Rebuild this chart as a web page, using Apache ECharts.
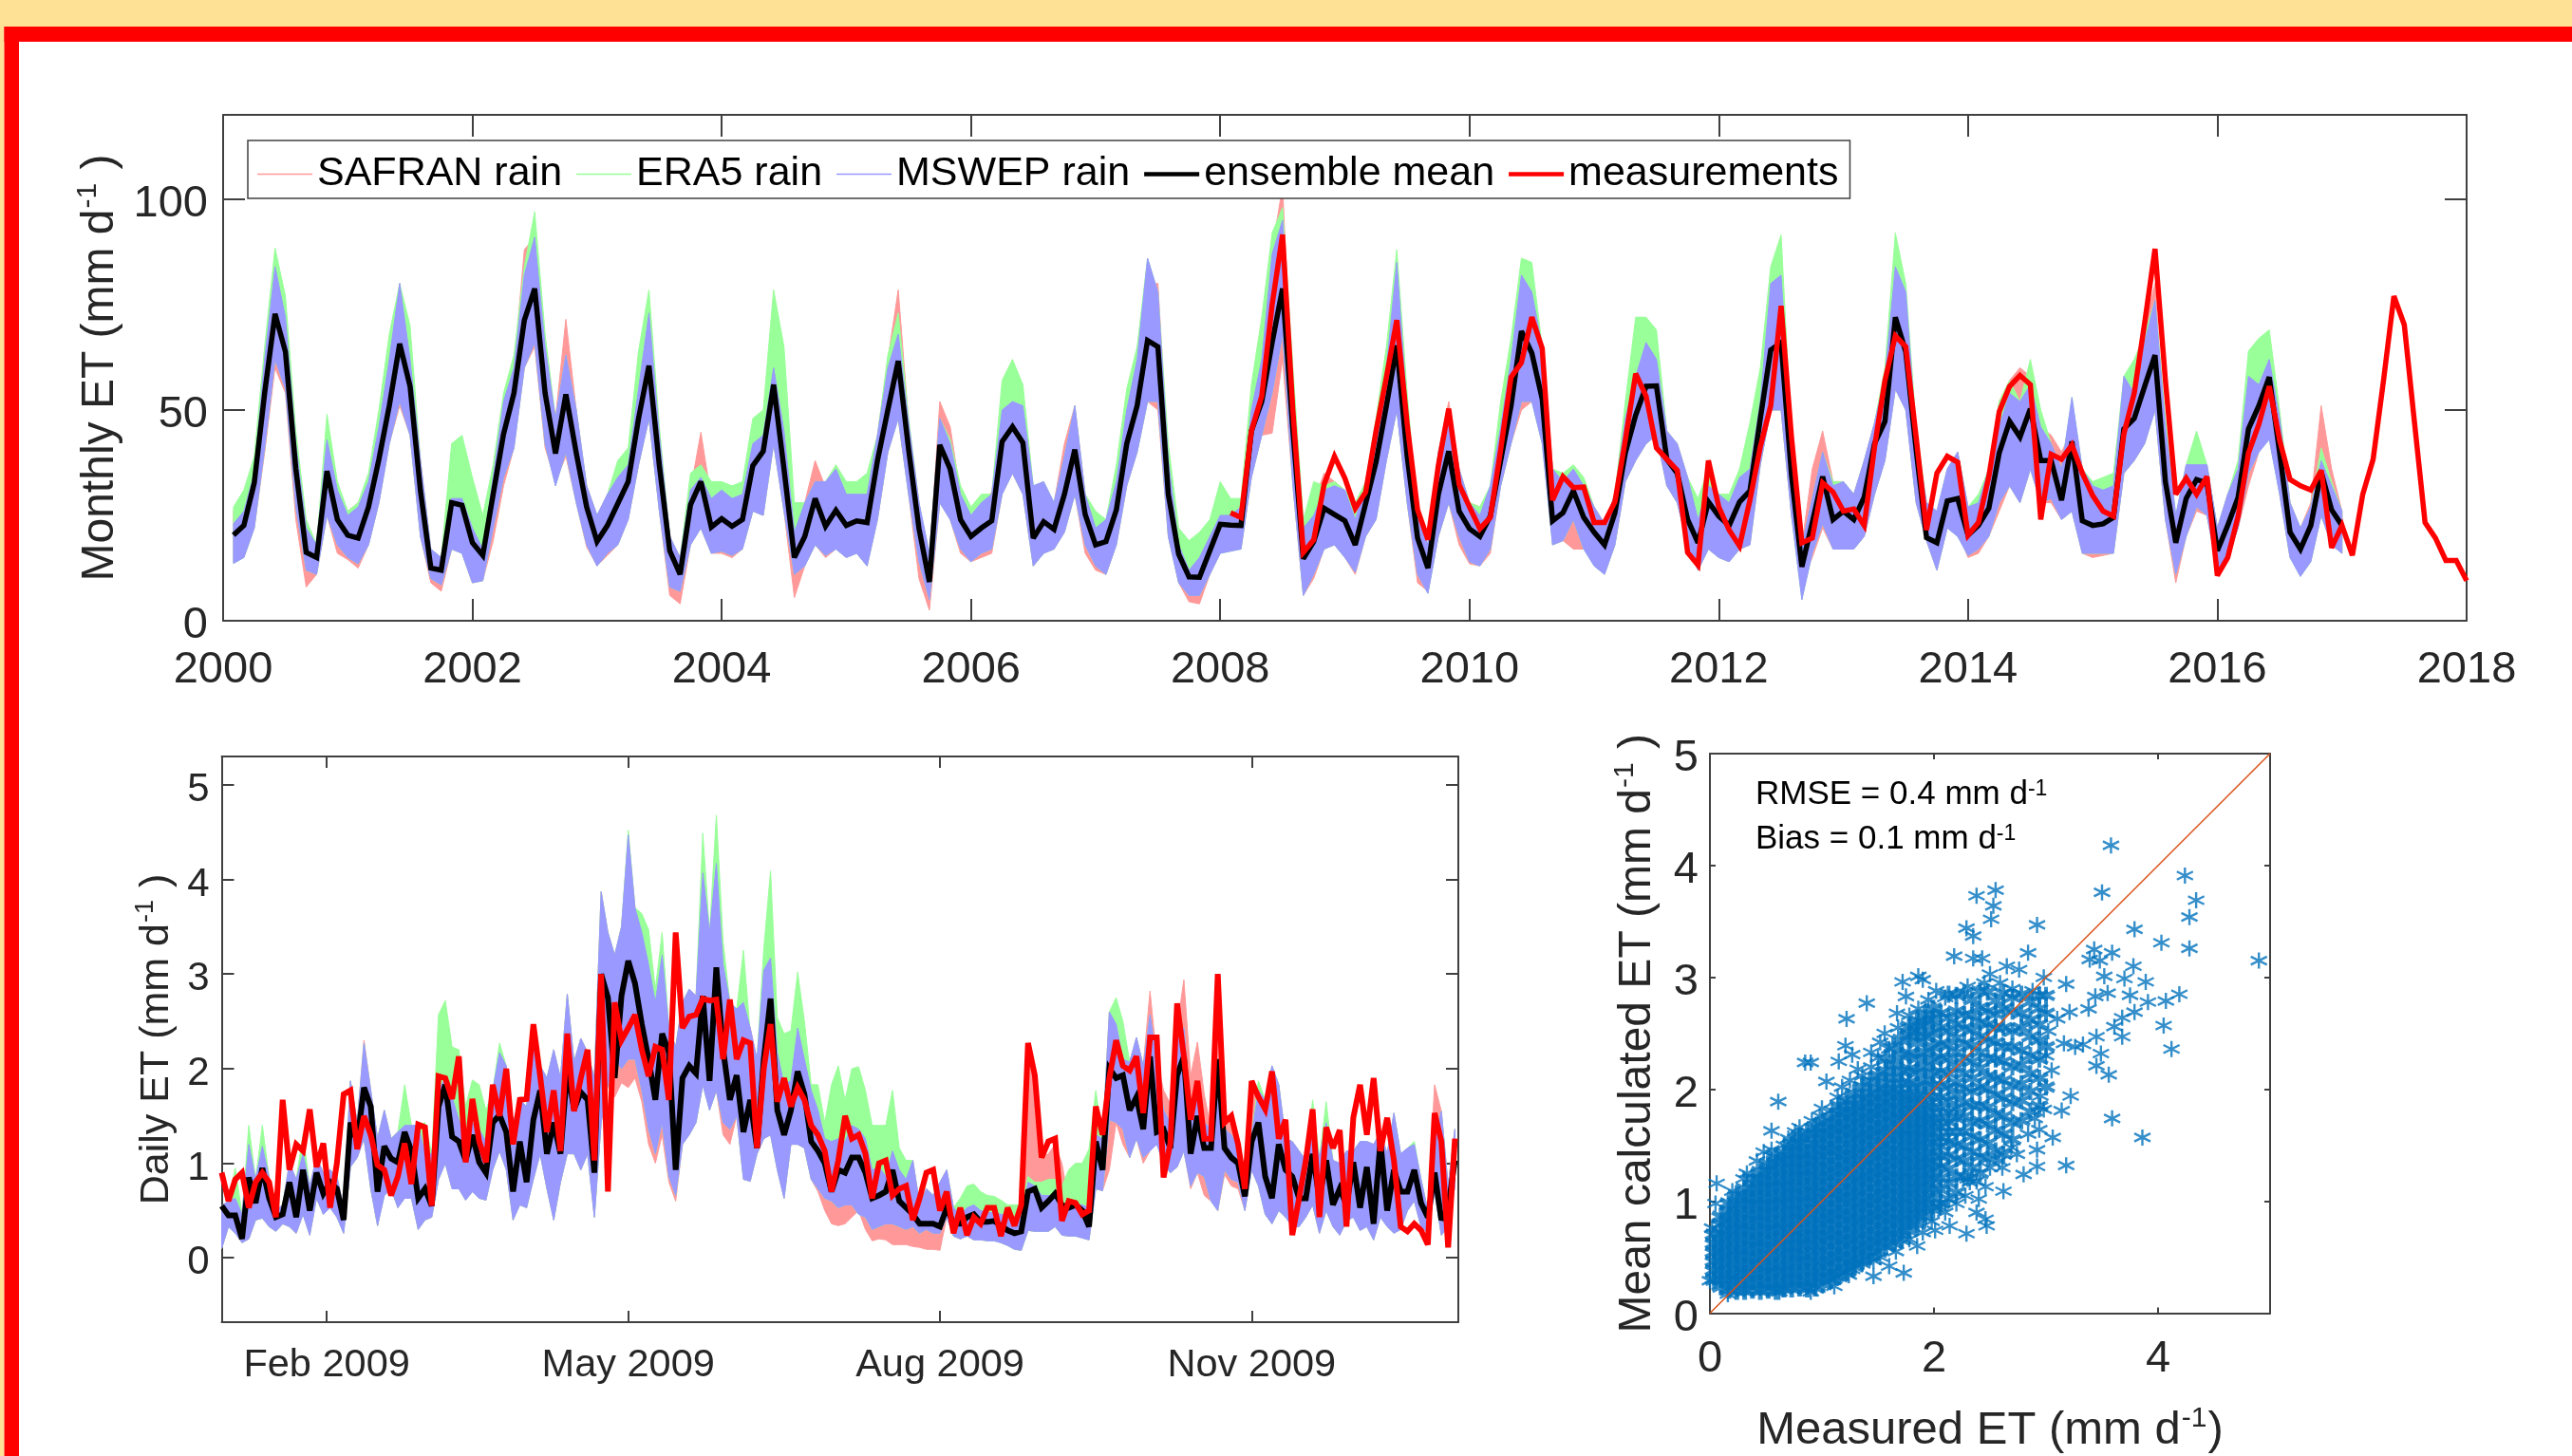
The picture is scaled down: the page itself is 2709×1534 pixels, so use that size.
<!DOCTYPE html>
<html><head><meta charset="utf-8">
<style>html,body{margin:0;padding:0;background:#fff}#c{width:2709px;height:1534px}</style>
<script src="https://cdn.jsdelivr.net/npm/echarts@6/dist/echarts.min.js"></script>
</head><body><div id="c"></div>
<script>
// ---------- Monthly panel: values from Feb 2000 onward (month index 1..204)
const meanMonthly=[20.3,22.6,32.7,54,72.8,63.8,36,16.2,15,35.5,24,20.3,19.6,27,38.3,51,65.7,55.6,30.8,12.5,12,28,27.4,18.5,15.5,30,44.3,54,71.3,78.8,54,39.7,53.7,39.8,27,18.8,22.6,27.8,33,48,60.5,36.8,16.6,11,27.5,33,22.2,24.2,22.4,24,36.8,40.2,56,36,15,20,29,22.4,26.2,22.6,23.7,23.3,38,50,61.6,40.6,21.8,9.2,41.7,36,24,20,22,23.7,42.5,46,42.2,19.6,23.5,21.7,30,40.6,25.2,18,18.8,26.3,42,51,66.5,65,30,15.8,10.4,10.3,16.6,22.9,22.7,22.6,45,52,66,78.8,45,14.7,18.8,26.7,25.2,23.7,18,27.8,37.6,51,65.3,39,19.6,12.5,30,40.2,26,21.8,20,24.8,38,51,68.7,63.5,52.6,23.7,25.6,30.8,24.5,21,18,25.6,39.8,48.8,55.6,55.7,38.3,35,24,18.5,28.2,24.8,22.6,28.2,30.8,48,64.2,66,34.6,12.8,23.3,34.2,24,26,24,29.3,42,47.3,72,63.8,40.6,19.7,18.5,28.4,29,20.3,22.6,26.7,39.8,47.3,43.6,50.3,38,38,28.6,42.5,23.7,22.6,23,24.5,45.5,48,55.6,63,33,18.5,29,33.5,32.7,16.6,22.6,29.3,45.5,51,57.8,39.8,21,17,22.6,35.3,26.3,22.6];
const mswepLowMonthly=[13.6,15,22,41,62,55,27,12,11,25,18,15,13.5,18,28,42,52,44,20,10,8.5,17,16,9,9.5,22,34,41,60,66,42,32,40,28,18,13,16,18,24,37,48,26,8,7,18,22,16,16.5,15.5,17,26,25,42,26,11,13,18,15.5,17,15,16,13,24,40,48,30,14,5,28,24,17,14,16,17,30,35,30,13,16,17,21,30,18,13,11,18,32,40,52,52,20,9,6,6,11,16,16.5,17,34,44,54,68,32,6,11,17,18,15,11.5,20,24,38,50,28,11,6.5,20,28,20,14,13,17,32,42,52,52,42,18,19,24,17,13,11,18,33,38,42,44,32,28,18,12,17,15,14,17,18,37,50,50,25,5,16,23,17,17,17,20,30,38,55,50,28,19,12,22,20,15.5,17,20,28,32,28,36,28,29,24,26,16,16,16,16,35,38,42,50,24,11,20,27,25,12,15,22,35,40,43,30,15,10.5,14,25,18,16];
const mswepHighMonthly=[23,26,35,62,84,72,42,22,18,43,31,25,27,33,46,62,80,62,38,17,15,29,29,22,17,34,52,60,82,91,65,48,63,50,32,25,30,34,37,55,73,44,20,15,31,34,29,31,29,30,42,44,60,45,21,28,33,33,36,30,30,30,44,60,68,47,28,16,48,42,30,25,28,30,50,52,51,32,33,28,39,51,30,22,24,33,50,62,86,78,38,18,12,15,20,25,25,27,50,62,87,95,55,22,25,31,32,31,24,32,42,60,85,50,25,18,40,50,36,28,25,32,46,62,82,78,65,36,33,36,32,27,23,30,48,58,66,62,45,42,34,24,32,30,28,34,36,52,80,82,44,18,29,40,32,33,30,38,47,58,84,78,44,28,26,36,40,27,28,36,46,54,52,56,46,42,36,53,36,32,31,32,58,54,66,76,46,25,37,37,37,22,30,36,58,56,62,48,28,22,27,38,32,26];
const era5HighMonthly=[27,31,39,65,88.4,77,45,24,18,49,33,26,28,35,50,68,80,70,38,17,15,42,44,34,25,37,54,63,84,97,68,48,63,50,32,25,30,38,41,64,78.5,46,20,15,35,37,33,33,32,33,48,50,78.5,65,28,28,33,33,37,33,33,35,44,63,73,48,28,16,48,43,32,27,30,30,57,62,56,32,33,28,39,51,30,26,24,37,55,65,86,78,42,22,19,21,24,33,29,29,56,72,92,98,60,24,33,32,33,31,28,33,48,65,88,54,25,18,40,50,36,28,27,32,52,67,86,85,65,36,35,37,34,27,23,30,52,72,72,69,45,42,34,29,36,30,30,36,47,60,84,91.5,44,18,29,40,33,33,30,38,47,60,92,80,46,28,26,36,40,27,30,36,52,57,52,62,50,42,36,53,36,33,34,35,58,62,68,76,48,25,37,45,37,22,30,38,64,67,69,50,28,22,27,41,33,26];
const safranLowMonthly=[14,15,22,40,60,54,24,8,11,25,16,14.5,12.5,18,28,42,51,44,20,9,7,17,16,9,9.5,19,32,41,60,65,41,33,39,28,17.5,13,15.5,18,24,37,48,26,6,4,18,22,16,16,15,17,26,25,42,26,5.5,13,18,15,17,15,16,13,24,40,48,30,10,2.5,28,24,16,14,15,16,30,35,30,13,16,17,21,30,16,12,11,18,32,40,52,50,20,9,4.5,4,11,16,17,17,34,44,44.5,62,32,6,10,17,18,15,11,20,24,38,50,28,9,7,20,28,18,13.5,13,16,32,42,50,52,45,18,19,17,17,15,11,18,33,38,42,44,32,28,18,12,17,15,14,17,18,37,50,50,25,9,15,22,17,18,17,20,30,38,55,50,28,19,12,22,21,15,16,20,26,32,28,36,28,28,24,26,16,15,15.5,16,35,38,42,50,24,9,20,26,25,12,15,22,32,40,45,30,15,12,14,25,18,16];
const safranHighMonthly=[26,30,35,62,84,72,42,22,18,43,31,26,28,33,46,62,80,62,38,17,15,29,29,22,17,34,52,60,88,91,65,48,71.5,50,32,25,30,34,37,55,73,44,20,15,31,44.7,29,31,29,30,42,44,60,45,21,28,38,31.6,31,30,30,30,44,62,78.5,47,28,14,52,46,30,26,28,30.5,48,50,48,30,32,28,42,51,30,22,24,33,50,64,80,80,38,18,12,15,20,25,25,27,50,62,88,103,50,22,28,35,33,31,24,32,42,60,84,50,25,18,40,52,36,28,27,30,46,62,82,78,65,36,33,36,32,27,23,30,48,58,62,62,45,42,34,24,32,30,28,34,36,52,82,82,44,18,36,45,33,33,30,38,47,58,84,78,44,26,24,36,40,27,28,36,52,57,60,58,46,44,40,45,36,32,31,32,50,54,70,80,40,24,37,37,37,22,30,36,50,56,62,48,28,22,28,51,36,26];
// measurements from Mar 2008 (index 97) to Jan 2018 (index 216)
const measMonthly=[25.6,24.5,45,53.3,75,91.6,49.6,16.2,19.2,32.3,39,33.8,26.7,30.5,45,57.8,71.3,46.6,26.3,19.2,36.8,50.3,32.3,27,21.8,24.5,40.6,57.8,61.2,72,64.6,28.6,34.2,31.6,31.7,23.3,23.3,28.2,42.8,58.6,53.3,41,38.3,35.7,16.2,13.2,38,27,21.5,17.7,28.6,41.3,51,74.7,43.6,18.5,19.6,32.7,30.5,26,26.5,22.6,41.3,57,67.6,65,43.6,21.5,35,39,37.6,20.3,23.3,34.2,49.6,55.6,58.2,56,24,39.5,38.3,41.7,35,29.7,26,24.8,44.3,54,70.6,88.2,57,30,33.8,30,34.2,10.7,15,24.8,39.8,46.6,55.6,42.8,33.5,32,31,35.7,17.3,22.6,15.5,30,38.3,57,77,70.2,46.6,23.3,19.6,14.3,14.3,9.5];
const monthlyFirstIndex=1, measFirstIndex=97;
const yearTicks=[2000,2002,2004,2006,2008,2010,2012,2014,2016,2018];
const monthlyYTicks=[0,50,100];

// ---------- Daily panel 2009: one reading every second day, from day 0
const dayStep=2;
const meanDaily=[.55,.45,.45,.2,.85,.58,.95,.63,.43,.46,.8,.43,.93,.5,.9,.68,.8,.73,.4,1.43,1.23,1.8,1.6,.7,1.18,1.05,1.01,1.33,1.13,.63,.73,.55,1.6,1.83,1.28,1.23,1.03,1.3,1.01,.9,1.43,1.51,1.33,.7,1.23,.8,1.46,1.77,1.1,1.43,1.1,2.0,1.57,1.75,1.67,.9,3.0,2.75,1.9,2.77,3.14,2.9,2.47,2.1,1.67,2.37,2.17,.93,1.9,2.03,1.95,2.77,1.87,3.07,2.2,1.67,1.93,1.33,1.67,1.16,2.1,2.74,1.56,1.3,1.56,1.97,1.73,1.23,1.13,1.0,.7,.93,.9,1.06,1.06,.9,.63,.66,.7,.93,.6,.53,.46,.36,.36,.36,.33,.53,.36,.36,.43,.46,.38,.38,.39,.34,.29,.26,.28,.7,.73,.53,.6,.68,.56,.53,.56,.5,.33,1.23,.93,2.0,1.9,1.93,1.56,1.7,1.36,2.13,1.33,1.36,1.16,1.93,2.13,1.1,1.5,1.16,1.16,2.1,1.16,1.06,1.0,.65,1.23,1.43,.86,.63,1.2,.93,.86,.63,.63,1.1,.63,1.03,.56,.73,.56,1.01,.53,.96,.36,1.23,.5,.93,.7,.7,.93,.58,.43,.9,.4,.53,1.03];
const measDaily=[.9,.6,.83,.9,.53,.8,.9,.8,.43,1.67,.93,1.2,1.13,1.57,.96,1.21,.53,1.0,1.73,1.77,1.15,1.5,1.3,.98,.93,.66,.86,1.21,.78,1.41,1.38,.55,1.92,1.9,1.68,2.13,1.01,1.68,1.23,1.01,1.83,1.5,2.0,1.2,1.67,1.68,2.47,1.92,1.33,1.77,1.13,2.37,1.55,1.9,2.2,1.03,3.0,.7,2.7,2.3,2.43,2.57,2.2,1.92,2.23,2.2,1.67,3.44,2.43,2.55,2.57,2.74,2.72,2.73,2.1,2.73,2.1,2.3,2.27,1.16,2.0,2.47,1.65,1.9,1.6,1.8,1.67,1.4,1.3,1.13,.7,1.03,1.5,1.26,1.3,1.1,.63,1.0,1.03,.66,.73,.76,.4,.63,.9,.93,.5,.7,.26,.53,.24,.43,.36,.53,.53,.23,.53,.34,.56,2.27,1.93,1.06,1.23,1.26,.39,.6,.58,.46,.5,1.6,1.3,1.9,2.3,2.03,1.98,2.13,1.53,2.33,2.33,.85,1.21,2.69,2.13,1.46,1.87,1.26,1.26,3.0,1.43,1.5,1.2,.73,1.87,1.7,1.57,1.97,1.26,1.46,.24,.63,1.03,1.57,.43,1.38,1.16,1.35,.33,1.48,1.83,1.3,1.9,1.13,1.48,1.03,.33,.28,.36,.29,.14,1.53,1.23,.11,1.26];
const mswepLowDaily=[.1,.33,.26,.16,.2,.4,.42,.33,.28,.36,.33,.26,.46,.24,.63,.46,.53,.43,.26,.96,1.06,1.26,.73,.34,.66,.73,.53,.63,.63,.3,.4,.43,.83,1.0,.73,.73,.61,.7,.63,.61,.93,1.13,.93,.4,.56,.53,.83,1.1,.73,.4,.8,1.1,1.1,.93,1.1,.43,1.43,1.83,2.1,2.0,2.1,2.1,1.77,1.36,1.1,1.43,.86,.66,1.2,1.3,1.43,1.83,1.56,1.77,1.43,1.36,1.5,.83,.81,1.1,1.26,1.3,.93,.63,1.2,1.2,1.16,.83,.73,.63,.6,.53,.56,.56,.46,.43,.3,.33,.36,.36,.33,.3,.33,.26,.3,.26,.26,.43,.23,.2,.23,.19,.19,.18,.18,.16,.13,.09,.08,.29,.28,.28,.28,.33,.24,.23,.23,.21,.19,.73,.71,1.46,1.43,1.36,1.06,1.26,1.06,1.13,1.2,1.0,.9,.96,1.13,.76,.9,.86,.6,.5,.93,.83,.8,.5,.93,.76,.46,.36,.5,.43,.33,.33,.43,.56,.26,.5,.33,.24,.39,.43,.29,.33,.19,.43,.33,.26,.3,.5,.6,.33,.26,.7,.24,.33,.76];
const mswepHighDaily=[.55,.6,.63,.46,1.2,.83,1.18,.85,.5,.56,1.0,.83,1.1,.76,1.06,.9,.93,.86,.53,1.87,1.43,2.27,1.77,1.26,1.56,1.26,1.33,1.4,1.4,1.4,1.1,1.1,1.77,1.9,1.7,1.46,1.26,1.43,1.36,1.23,1.77,2.17,2.03,1.43,1.67,1.6,2.23,2.03,1.9,2.2,1.9,2.79,2.07,2.32,2.17,1.9,3.87,3.44,3.2,3.5,4.47,3.7,3.44,3.1,2.7,3.2,2.43,2.23,2.7,2.84,2.77,4.07,3.44,4.17,3.1,2.7,2.63,2.7,2.43,2.1,3.04,3.17,2.17,1.83,1.87,2.43,2.1,1.77,1.56,1.26,1.23,1.26,1.23,1.4,1.36,1.26,.93,.96,.86,1.13,.93,.83,1.03,.56,.73,.66,.8,.93,.53,.46,.53,.56,.5,.48,.48,.46,.46,.43,.43,.8,.76,.66,.66,.65,.5,.6,.56,.56,.53,1.3,1.26,2.6,2.47,2.1,2.07,2.33,2.03,2.57,2.1,1.56,1.43,2.43,2.43,1.56,1.8,1.43,1.36,2.1,1.36,1.3,1.16,.9,1.3,1.77,1.67,2.03,1.83,1.26,1.23,1.13,1.03,1.43,1.06,1.43,1.03,1.0,1.13,1.13,1.23,1.23,1.2,1.33,1.1,1.53,1.1,1.16,1.2,.83,.5,1.26,1.55,.76,1.36];
// 0 = this ensemble stays hidden behind MSWEP on that day
const era5HighDaily=[0,0,.95,0,1.4,0,1.4,0,0,0,0,0,1.3,0,0,0,0,0,0,0,0,0,0,0,0,0,0,1.83,1.4,0,1.43,0,2.57,2.72,2.23,2.2,1.6,1.88,1.83,1.56,0,2.27,0,0,0,0,0,0,0,0,0,0,0,0,0,0,3.87,0,0,0,4.52,0,3.64,3.47,2.84,3.44,0,0,0,0,0,4.49,0,4.68,3.34,0,0,3.25,2.38,0,3.27,4.09,2.54,2.37,2.4,3.02,2.5,1.83,1.83,1.43,1.83,2.03,1.67,2.0,2.02,1.77,1.4,1.4,1.4,1.77,1.16,1.03,1.03,0,0,0,0,0,0,.63,.76,.78,.7,.66,.65,.61,.56,.56,.56,.86,.8,.8,.83,.83,.76,.93,1.0,1.0,1.15,1.77,0,0,2.75,2.5,0,0,0,0,0,0,0,0,0,0,0,0,0,0,0,0,0,0,0,1.87,0,0,1.83,0,0,0,0,1.67,0,1.65,0,0,0,0,0,0,0,0,0,0,0,0,1.23,0,0,0,0,0,0];
const safranHighDaily={21:2.3,119:2.27,120:1.93,121:1.06,122:1.1,123:1.2,124:1.0,137:2.82,139:1.77,140:1.63,142:2.94,143:1.93,144:2.28,145:1.73,147:3.0,148:1.5,149:1.5,152:1.87,179:1.83};
const safranLowDaily={58:1.7,59:1.85,60:1.8,61:1.9,62:1.65,63:1.2,64:1.0,65:1.3,66:.8,67:.6,74:1.3,75:1.2,88:.7,89:.5,90:.36,91:.34,92:.36,93:.43,94:.5,95:.3,96:.18,97:.2,98:.19,99:.14,100:.14,101:.14,102:.12,103:.11,104:.09,105:.09,106:.08,131:.93,133:1.2,136:1.0,143:.73,145:.66,148:.88,149:.76,150:.73};
const dayTicks=[31,120,212,304];
const dayTickLabels=['Feb 2009','May 2009','Aug 2009','Nov 2009'];
const dailyYTicks=[0,1,2,3,4,5];

// ---------- Scatter panel
const scatterOutliers=[[4.9,3.15],[3.58,4.18],[4.24,3.91],[4.34,3.69],[4.28,3.54],[4.28,3.26],[3.5,3.76],[2.55,3.78],[2.38,3.73],[2.53,3.64],[2.51,3.52],[2.29,3.44],[2.35,3.37],[2.92,3.47],[3.79,3.43],[4.03,3.31],[2.84,3.22],[2.18,3.19],[2.35,3.17],[2.43,3.17],[3.43,3.25],[3.59,3.22],[3.39,3.16],[3.48,3.15],[3.78,3.1],[2.65,3.1],[2.76,3.07],[2.5,3.03],[2.98,3.0],[3.52,3.01],[3.7,2.99],[3.89,2.96],[1.86,3.01],[1.9,2.98],[1.72,2.96],[3.18,2.94],[2.59,2.95],[4.19,2.85],[3.55,2.86],[3.44,2.83],[3.75,2.84],[4.07,2.79],[3.91,2.78],[1.4,2.77],[1.75,2.83],[1.67,2.68],[1.86,2.72],[1.22,2.63],[3.38,2.72],[3.21,2.69],[3.79,2.69],[3.68,2.64],[3.1,2.63],[4.05,2.57],[3.61,2.56],[3.45,2.47],[3.68,2.47],[3.16,2.41],[3.26,2.38],[3.33,2.4],[4.12,2.36],[3.49,2.32],[3.45,2.21],[3.56,2.13],[3.05,2.17],[1.21,2.39],[.85,2.24],[.9,2.24],[.61,1.89],[1.44,2.33],[1.27,2.31],[1.15,2.25],[1.56,2.5],[1.04,2.07],[3.22,1.94],[3.14,1.81],[2.95,1.94],[3.59,1.74],[3.86,1.57],[3.06,1.57],[2.94,1.64],[3.18,1.32],[2.92,1.31],[2.8,1.24],[2.92,1.46],[2.69,1.48],[2.61,1.3],[2.62,1.09],[2.46,1.13],[2.32,1.17],[2.28,1.05],[2.4,1.02],[2.05,.95],[2.38,.9],[2.46,.84],[2.47,.78],[2.14,.78],[2.29,.71],[2.01,.74],[1.85,.6],[1.73,.36],[1.6,.42],[1.46,.33],[1.46,.47],[1.27,.39],[1.11,.24],[.9,.19],[.62,.19],[.16,.17],[0,.29],[.05,.98],[.06,1.16],[.02,.76],[.33,1.25],[.55,1.63],[.8,1.66],[.55,1.46],[.66,1.5],[.91,1.72],[1.0,1.83],[1.09,1.81],[.2,1.09],
[.3,1.2],[.42,1.36],[.48,1.44],[.7,1.56],[.76,1.62],[.98,1.76],[1.14,1.93],[1.18,2.02],[1.25,2.08],[1.32,2.18],[1.36,2.12],[1.44,2.2],[1.5,2.28],[1.6,2.36],[1.52,2.42],[1.68,2.55],[1.78,2.66],[1.95,2.8],[2.02,2.88],[2.1,2.82],[2.3,2.92],[2.45,2.95],[2.7,2.9],[2.88,2.88],
[1.12,.32],[1.24,.34],[1.36,.44],[1.52,.5],[1.66,.55],[1.78,.66],[1.9,.72],[1.98,.82],[2.1,.9],[2.2,.98],[2.3,1.2],[2.38,1.18],[2.5,1.3],[2.58,1.36],[2.74,1.42],[2.84,1.6],[2.9,1.74],[2.98,1.82],[3.0,2.3],[3.02,2.52]];
// the dense cloud, read column by column: [measured, calculated, calculated, ...]
const scatterColumns=[
[.04,.3,.38,.46,.54,.62,.7],[.1,.24,.31,.39,.47,.55,.63,.71,.79,.86],
[.17,.21,.29,.36,.44,.52,.6,.68,.75,.83,.91,.98],[.24,.2,.28,.35,.43,.51,.58,.66,.74,.81,.89,.97,1.05],
[.31,.2,.27,.35,.42,.5,.57,.65,.73,.8,.88,.96,1.03,1.11],[.38,.21,.29,.36,.44,.51,.59,.66,.74,.82,.89,.97,1.04,1.12,1.2],
[.45,.2,.27,.35,.43,.5,.58,.65,.73,.81,.88,.96,1.03,1.11,1.19,1.26],[.52,.21,.28,.36,.43,.51,.58,.66,.74,.81,.89,.96,1.04,1.12,1.19,1.27,1.33],
[.59,.2,.27,.35,.42,.5,.58,.65,.73,.8,.88,.96,1.03,1.11,1.18,1.26,1.34,1.4],[.66,.22,.29,.37,.44,.52,.6,.67,.75,.82,.9,.98,1.05,1.13,1.2,1.28,1.36,1.43],
[.73,.22,.3,.37,.45,.53,.6,.68,.75,.83,.91,.98,1.06,1.13,1.21,1.29,1.36,1.44,1.51],[.8,.23,.3,.38,.46,.53,.61,.68,.76,.84,.91,.99,1.06,1.14,1.22,1.29,1.37,1.44,1.52,1.58],
[.87,.22,.29,.37,.45,.52,.6,.67,.75,.83,.9,.98,1.05,1.13,1.21,1.28,1.36,1.43,1.51,1.6],[.94,.23,.31,.38,.46,.54,.61,.69,.76,.84,.92,.99,1.07,1.14,1.22,1.3,1.37,1.45,1.52,1.6,1.66],
[1.01,.26,.33,.41,.48,.56,.64,.71,.79,.86,.94,1.02,1.09,1.17,1.24,1.32,1.4,1.47,1.55,1.62,1.7],[1.08,.3,.37,.45,.52,.6,.68,.75,.83,.9,.98,1.06,1.13,1.21,1.28,1.36,1.44,1.51,1.59,1.66,1.74],
[1.15,.33,.41,.49,.56,.64,.71,.79,.87,.94,1.02,1.09,1.17,1.25,1.32,1.4,1.47,1.55,1.63,1.7,1.78,1.85],[1.22,.37,.45,.52,.6,.67,.75,.83,.9,.98,1.05,1.13,1.21,1.28,1.36,1.43,1.51,1.59,1.66,1.74,1.81,1.9],
[1.29,.42,.49,.57,.65,.72,.8,.87,.95,1.03,1.1,1.18,1.25,1.33,1.41,1.48,1.56,1.63,1.71,1.79,1.86,1.96],[1.36,.47,.55,.62,.7,.78,.85,.93,1,1.08,1.16,1.23,1.31,1.38,1.46,1.54,1.61,1.69,1.76,1.84,1.92,2.02],
[1.43,.51,.59,.66,.74,.82,.89,.97,1.04,1.12,1.2,1.27,1.35,1.42,1.5,1.58,1.65,1.73,1.8,1.88,1.96,2.07],[1.5,.55,.63,.7,.78,.86,.93,1.01,1.08,1.16,1.24,1.31,1.39,1.46,1.54,1.62,1.69,1.77,1.84,1.92,2,2.12],
[1.57,.6,.68,.75,.83,.9,.98,1.06,1.13,1.21,1.28,1.36,1.44,1.51,1.59,1.66,1.74,1.82,1.89,1.97,2.05,2.16,2.27],[1.64,.63,.71,.79,.86,.94,1.01,1.09,1.17,1.24,1.32,1.39,1.47,1.55,1.62,1.7,1.77,1.85,1.93,2,2.1,2.22,2.38],
[1.71,.66,.74,.82,.89,.97,1.04,1.12,1.2,1.27,1.35,1.42,1.5,1.58,1.65,1.73,1.8,1.88,1.96,2.05,2.16,2.3,2.44],[1.78,.74,.82,.89,.97,1.05,1.12,1.2,1.27,1.35,1.43,1.5,1.58,1.65,1.73,1.81,1.88,1.96,2.06,2.18,2.32,2.48,2.56],
[1.85,.8,.88,.95,1.03,1.11,1.18,1.26,1.33,1.41,1.49,1.56,1.64,1.71,1.79,1.87,1.94,2.03,2.15,2.28,2.42,2.52,2.6],[1.92,.87,.95,1.02,1.1,1.18,1.25,1.33,1.4,1.48,1.56,1.63,1.71,1.78,1.86,1.95,2.07,2.2,2.33,2.47,2.58,2.66],
[1.99,.93,1.03,1.12,1.2,1.28,1.35,1.43,1.52,1.6,1.68,1.75,1.84,1.93,2.03,2.14,2.26,2.38,2.5,2.62,2.72]];
const scatterColumnsSparse=[
[2.06,.98,1.1,1.21,1.31,1.4,1.49,1.57,1.66,1.74,1.83,1.93,2.04,2.16,2.29,2.41,2.55,2.68],
[2.13,1.02,1.16,1.29,1.41,1.53,1.62,1.71,1.8,1.9,2.02,2.14,2.27,2.39,2.52,2.64,2.85],[2.2,1.08,1.22,1.38,1.51,1.62,1.74,1.83,1.95,2.06,2.2,2.33,2.46,2.58,2.7,2.84],
[2.27,1.22,1.36,1.49,1.62,1.76,1.88,2.01,2.14,2.28,2.41,2.55,2.67,2.86],[2.34,1.3,1.44,1.58,1.7,1.85,1.98,2.1,2.25,2.39,2.53,2.66,2.8],
[2.41,1.25,1.4,1.55,1.72,1.86,2.02,2.19,2.33,2.47,2.6,2.73,2.88],[2.48,1.38,1.52,1.69,1.84,2.0,2.12,2.28,2.44,2.58,2.7,2.87],
[2.55,1.45,1.63,1.78,1.95,2.1,2.27,2.42,2.55,2.67,2.79],[2.62,1.42,1.6,1.76,1.92,2.08,2.25,2.38,2.55,2.72,2.86],
[2.7,1.55,1.7,1.88,2.03,2.2,2.38,2.52,2.7,2.82],[2.78,1.72,1.9,2.05,2.22,2.35,2.55,2.68,2.85],
[2.86,1.8,1.98,2.14,2.3,2.47,2.62,2.78],[2.94,1.85,2.1,2.27,2.44,2.58,2.72,2.84],[3.0,2.02,2.38,2.68,2.84]];
const oneToOneLine=[[0,0],[5,5]];
const scatterTicksX=[0,2,4];
const scatterTicksY=[0,1,2,3,4,5];

const FONT='"Liberation Sans", Arial, sans-serif';
const AXC='#404040', TXT='#262626';
const RED='#FF9999',GREEN='#99FF99',BLUE='#9999FF',MARK='#0072BD';

const monthX=i=>2000+i/12;
const rows=(xs,lo,hi)=>xs.map((x,i)=>[x,lo[i],hi[i]]);
function band(name,color,xs,lo,hi,ax){
  const data=rows(xs,lo,hi);
  return {type:'custom',name,coordinateSystem:'cartesian2d',xAxisIndex:ax,yAxisIndex:ax,silent:true,
    itemStyle:{color},encode:{x:0,y:[1,2]},data,clip:true,
    renderItem(params,api){
      if(params.dataIndex!==0) return null;
      const up=data.map(r=>api.coord([r[0],r[2]]));
      const dn=data.map(r=>api.coord([r[0],r[1]])).reverse();
      return {type:'polygon',shape:{points:up.concat(dn)},style:{fill:color,stroke:color,lineWidth:1}};
    }};
}
function line(name,color,width,pts,ax,z){
  return {type:'line',name,data:pts,xAxisIndex:ax,yAxisIndex:ax,symbol:'none',smooth:false,silent:true,z:z||3,
    lineStyle:{color,width,join:'miter',miterLimit:3},itemStyle:{color},clip:true};
}
// ---- monthly series
const mX=meanMonthly.map((_,k)=>monthX(k+monthlyFirstIndex));
const monthlySeries=[
  band('SAFRAN rain',RED,mX,safranLowMonthly,safranHighMonthly,0),
  band('ERA5 rain',GREEN,mX,mswepLowMonthly,era5HighMonthly,0),
  band('MSWEP rain',BLUE,mX,mswepLowMonthly,mswepHighMonthly,0),
  line('ensemble mean','#000',5.5,mX.map((x,i)=>[x,meanMonthly[i]]),0,3),
  line('measurements','#FF0000',5.5,measMonthly.map((v,k)=>[monthX(k+measFirstIndex),v]),0,4)
];
// ---- daily series
const dX=meanDaily.map((_,k)=>k*dayStep);
const dGreen=era5HighDaily.map((v,i)=>v||mswepHighDaily[i]);
const dRedHi=mswepHighDaily.map((v,i)=>safranHighDaily[i]!==undefined?safranHighDaily[i]:v);
const dRedLo=mswepLowDaily.map((v,i)=>safranLowDaily[i]!==undefined?safranLowDaily[i]:v);
const dailySeries=[
  band('SAFRAN daily',RED,dX,dRedLo,dRedHi,1),
  band('ERA5 daily',GREEN,dX,mswepLowDaily,dGreen,1),
  band('MSWEP daily',BLUE,dX,mswepLowDaily,mswepHighDaily,1),
  line('mean daily','#000',6,dX.map((x,i)=>[x,meanDaily[i]]),1,3),
  line('meas daily','#FF0000',6,dX.map((x,i)=>[x,measDaily[i]]),1,4)
];
// ---- scatter
const flat=cols=>{const out=[];cols.forEach(c=>c.slice(1).forEach(y=>out.push([c[0],y])));return out;};
const STAR='path://M0 -10L0 10M-8.66 -5L8.66 5M-8.66 5L8.66 -5';
const scat=(name,data,size,bw)=>({type:'scatter',name,xAxisIndex:2,yAxisIndex:2,silent:true,z:2,animation:false,clip:false,
   data,symbolSize:size,symbol:STAR,itemStyle:{color:MARK,borderColor:MARK,borderWidth:bw}});
const scatterSeries=[
  scat('cloud',flat(scatterColumns),19,5),
  scat('cloud sparse',flat(scatterColumnsSparse),18,4),
  scat('outliers',scatterOutliers,17,2.4),
  line('1:1','#D95319',1.5,oneToOneLine,2,3)
];

function sup(main,tail){return '{a|'+main+'}{s|-1}{a|'+(tail||'')+'}';}
function rich(fs){return {a:{fontSize:fs,fontFamily:FONT,color:TXT,lineHeight:fs*1.15},
  s:{fontSize:Math.round(fs*.62),fontFamily:FONT,color:TXT,verticalAlign:'top',lineHeight:fs*1.15,padding:[0,1,0,1]}};}
const lab=(fs,margin,extra)=>Object.assign({fontSize:fs,fontFamily:FONT,color:TXT,margin,hideOverlap:false,showMinLabel:true,showMaxLabel:true},extra||{});
const grids=[
  {left:235,top:121,width:2363,height:533},
  {left:233.5,top:797,width:1302.5,height:596},
  {left:1801,top:794,width:590,height:589.5}
];
const AL={show:true,onZero:false,lineStyle:{color:AXC,width:2}};
function xPair(g,cfg){
  return [
   {type:'value',gridIndex:g,position:'bottom',min:cfg.min,max:cfg.max,splitLine:{show:false},axisLine:AL,
    axisTick:{inside:true,length:cfg.tick,lineStyle:{color:AXC,width:2},customValues:cfg.ticks},
    axisLabel:lab(cfg.fs,cfg.margin,{customValues:cfg.ticks,formatter:cfg.fmt}),
    name:cfg.name,nameLocation:'middle',nameGap:cfg.gap,nameTextStyle:cfg.name?{rich:rich(cfg.nfs)}:undefined},
   {type:'value',gridIndex:g,position:'top',min:cfg.min,max:cfg.max,splitLine:{show:false},axisLine:AL,
    axisTick:{inside:true,length:cfg.tick,lineStyle:{color:AXC,width:2},customValues:cfg.ticks},axisLabel:{show:false}}
  ];
}
function yPair(g,cfg){
  return [
   {type:'value',gridIndex:g,position:'left',min:cfg.min,max:cfg.max,splitLine:{show:false},axisLine:AL,
    axisTick:{inside:true,length:cfg.tick,lineStyle:{color:AXC,width:2},customValues:cfg.ticks},
    // the tick numbers sit a little under their ticks, as in the MATLAB figure
    axisLabel:lab(cfg.fs,cfg.margin,{customValues:cfg.ticks,formatter:v=>'{v|'+v+'}',
      rich:{v:{fontSize:cfg.fs,fontFamily:FONT,color:TXT,padding:[11,0,0,0]}}}),
    name:cfg.name,nameLocation:'middle',nameGap:cfg.gap,nameRotate:90,nameTextStyle:{rich:rich(cfg.nfs)}},
   {type:'value',gridIndex:g,position:'right',min:cfg.min,max:cfg.max,splitLine:{show:false},axisLine:AL,
    axisTick:{inside:true,length:cfg.tick,lineStyle:{color:AXC,width:2},customValues:cfg.ticks},axisLabel:{show:false}}
  ];
}
// axis index layout: bottom/left of each grid first, so series can use 0,1,2
const xa=[xPair(0,{min:2000,max:2018,ticks:yearTicks,tick:23,fs:47,margin:29,fmt:v=>String(v)}),
          xPair(1,{min:0,max:365,ticks:dayTicks,tick:12,fs:41.5,margin:25,fmt:v=>dayTickLabels[dayTicks.indexOf(v)]||''}),
          xPair(2,{min:0,max:5,ticks:scatterTicksX,tick:6,fs:47,margin:25,fmt:v=>String(v),name:sup('Measured ET (mm d',')'),nfs:49,gap:96})];
const ya=[yPair(0,{min:0,max:120,ticks:monthlyYTicks,tick:23,fs:47,margin:16,name:sup('Monthly ET (mm d',' )'),nfs:48,gap:100}),
          yPair(1,{min:-0.68,max:5.3,ticks:dailyYTicks,tick:13,fs:42,margin:13,name:sup('Daily ET (mm d',' )'),nfs:43,gap:44}),
          yPair(2,{min:0,max:5,ticks:scatterTicksY,tick:6,fs:47,margin:12,name:sup('Mean calculated ET (mm d',' )'),nfs:48,gap:49})];
const xAxis=[xa[0][0],xa[1][0],xa[2][0],xa[0][1],xa[1][1],xa[2][1]];
const yAxis=[ya[0][0],ya[1][0],ya[2][0],ya[0][1],ya[1][1],ya[2][1]];

const legendLine=(name,color,h)=>({name,icon:'path://M0 0H100V'+h+'H0Z',itemStyle:{color,borderWidth:0}});
const noteRich={a:{fontSize:35,fontFamily:FONT,color:'#000'},s:{fontSize:23,fontFamily:FONT,color:'#000',verticalAlign:'top',lineHeight:35}};

const option={
  animation:false,backgroundColor:'#fff',
  grid:grids,xAxis,yAxis,
  legend:{left:261,top:148,orient:'horizontal',padding:[14,12,4,10],itemWidth:58,itemHeight:40,itemGap:15,
    backgroundColor:'#fff',borderColor:AXC,borderWidth:1.5,selectedMode:false,z:20,
    textStyle:{fontSize:43,fontFamily:FONT,color:'#000'},
    data:[legendLine('SAFRAN rain',RED,2.2),legendLine('ERA5 rain',GREEN,2.2),legendLine('MSWEP rain',BLUE,2.2),
          legendLine('ensemble mean','#000',8),legendLine('measurements','#FF0000',8)]},
  series:monthlySeries.concat(dailySeries,scatterSeries),
  graphic:[
    {type:'rect',shape:{x:0,y:0,width:2709,height:28},style:{fill:'#FFE195'},silent:true},
    {type:'rect',shape:{x:0,y:28,width:4.5,height:1506},style:{fill:'#FFE195'},silent:true},
    {type:'rect',shape:{x:4.5,y:28,width:2705,height:16},style:{fill:'#FF0000'},silent:true},
    {type:'rect',shape:{x:4.5,y:28,width:15.5,height:1506},style:{fill:'#FF0000'},silent:true},
    {type:'text',left:1849,top:820,z:30,silent:true,style:{text:'{a|RMSE = 0.4 mm d}{s|-1}',rich:noteRich}},
    {type:'text',left:1849,top:867,z:30,silent:true,style:{text:'{a|Bias = 0.1 mm d}{s|-1}',rich:noteRich}}
  ]
};
const chart=echarts.init(document.getElementById('c'),null,{renderer:'canvas',width:2709,height:1534});
chart.setOption(option);
</script></body></html>
